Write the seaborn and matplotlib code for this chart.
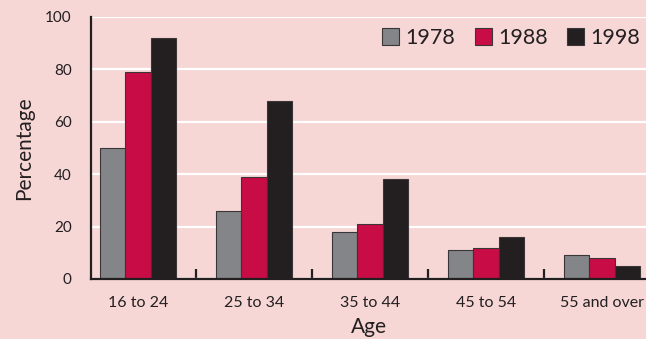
import matplotlib
matplotlib.use("Agg")
import matplotlib.pyplot as plt
import seaborn as sns
import pandas as pd
from matplotlib.patches import Patch

# Share of each age group, by survey year (%)
ages = ["16 to 24", "25 to 34", "35 to 44", "45 to 54", "55 and over"]
years = ["1978", "1988", "1998"]
pct_1978 = [50, 26, 18, 11, 9]
pct_1988 = [79, 39, 21, 12, 8]
pct_1998 = [92, 68, 38, 16, 5]

bg = "#f6d7d6"
ink = "#231f20"
palette = {"1978": "#838588", "1988": "#c80c45", "1998": "#231f20"}

rows = []
for yr, vals in zip(years, [pct_1978, pct_1988, pct_1998]):
    for a, v in zip(ages, vals):
        rows.append({"Age": a, "Year": yr, "Percentage": v})
df = pd.DataFrame(rows)

sns.set_theme(style="white")
plt.rcParams["font.family"] = ["Lato", "DejaVu Sans"]

fig = plt.figure(figsize=(6.46, 3.39), dpi=100, facecolor=bg)
ax = fig.add_axes([91 / 646, 1 - 279 / 339, 1 - 91 / 646, (279 - 17) / 339])
ax.set_facecolor(bg)

sns.barplot(data=df, x="Age", y="Percentage", hue="Year", order=ages,
            hue_order=years, palette=palette, width=0.655, gap=0,
            edgecolor="#3a3536", linewidth=0.8, saturation=1,
            legend=False, ax=ax, zorder=3)

ax.set_ylim(0, 100)
ax.set_xlim(-0.405, 4.38)
ax.set_yticks([0, 20, 40, 60, 80, 100])
ax.yaxis.grid(True, color="white", linewidth=1.6, zorder=0)
ax.set_axisbelow(True)

for s in ["top", "right"]:
    ax.spines[s].set_visible(False)
for s in ["left", "bottom"]:
    ax.spines[s].set_color(ink)
    ax.spines[s].set_linewidth(1.6)
    ax.spines[s].set_zorder(4)

ax.set_xticks([0.5, 1.5, 2.5, 3.5], minor=True)
ax.tick_params(axis="x", which="minor", direction="in", length=7,
               width=1.6, color=ink, bottom=True)
ax.tick_params(axis="x", which="major", length=0, pad=12,
               labelsize=11.5, labelcolor=ink)
ax.tick_params(axis="y", length=0, pad=14, labelsize=11, labelcolor=ink)

ax.set_xlabel("Age", fontsize=15, color=ink, labelpad=5)
ax.set_ylabel("Percentage", fontsize=15, color=ink, labelpad=8)

handles = [Patch(facecolor=palette[y], edgecolor="#3a3536", linewidth=0.8)
           for y in years]
ax.legend(handles, years, loc="center left",
          bbox_to_anchor=(382 / 646, 1 - 38 / 339),
          bbox_transform=fig.transFigure, ncol=3, frameon=False,
          fontsize=15.5, handlelength=0.78, handleheight=0.78,
          handletextpad=0.3, columnspacing=0.92, borderpad=0,
          borderaxespad=0, labelcolor=ink)

fig.savefig("out.png", dpi=100, facecolor=bg)
